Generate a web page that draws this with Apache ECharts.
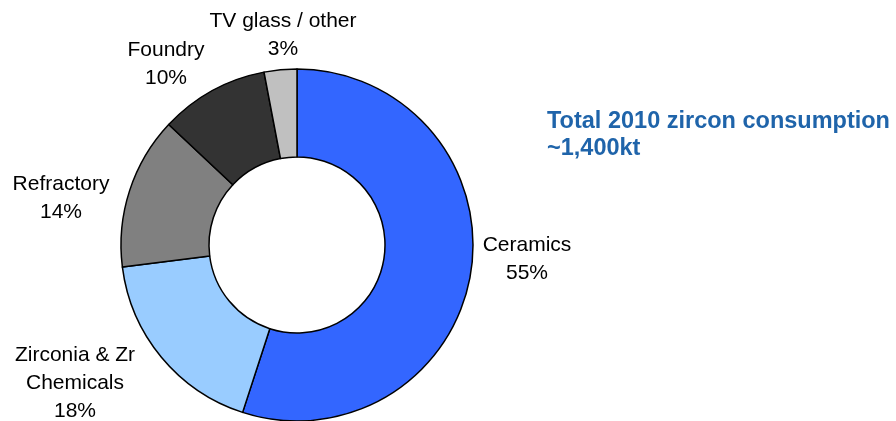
<!DOCTYPE html>
<html>
<head>
<meta charset="utf-8">
<script src="https://cdn.jsdelivr.net/npm/echarts@6/dist/echarts.min.js"></script>
<style>html,body{margin:0;padding:0;background:#fff}#c{width:896px;height:421px}</style>
</head>
<body>
<div id="c"></div>
<script>
var categories = ['Ceramics', 'Zirconia & Zr\nChemicals', 'Refractory', 'Foundry', 'TV glass / other'];
var values = [55, 18, 14, 10, 3];
var colors = ['#3366FF', '#99CCFF', '#808080', '#333333', '#C0C0C0'];
var labelPos = [[527, 259], [75, 383], [61, 198], [166, 64], [283, 35]];

var chart = echarts.init(document.getElementById('c'));
chart.setOption({
  animation: false,
  title: {
    text: 'Total 2010 zircon consumption\n~1,400kt',
    left: 542, top: 103,
    textStyle: { color: '#1F64AA', fontFamily: 'Liberation Sans, Arial', fontSize: 23.5, fontWeight: 'bold', lineHeight: 27 }
  },
  series: [{
    type: 'pie',
    center: [297, 245],
    radius: [88, 176],
    startAngle: 90,
    clockwise: true,
    avoidLabelOverlap: false,
    itemStyle: { borderColor: '#000', borderWidth: 1.5 },
    label: {
      show: true,
      position: 'outside',
      formatter: function (p) { return p.name + '\n' + p.value + '%'; },
      color: '#000',
      fontFamily: 'Liberation Sans, Arial',
      fontSize: 21,
      lineHeight: 28,
      align: 'center'
    },
    labelLine: { show: false },
    labelLayout: function (p) {
      var pos = labelPos[p.dataIndex];
      return { x: pos[0], y: pos[1], align: 'center', verticalAlign: 'middle' };
    },
    data: categories.map(function (c, i) {
      return { name: c, value: values[i], itemStyle: { color: colors[i] } };
    })
  }]
});
</script>
</body>
</html>
